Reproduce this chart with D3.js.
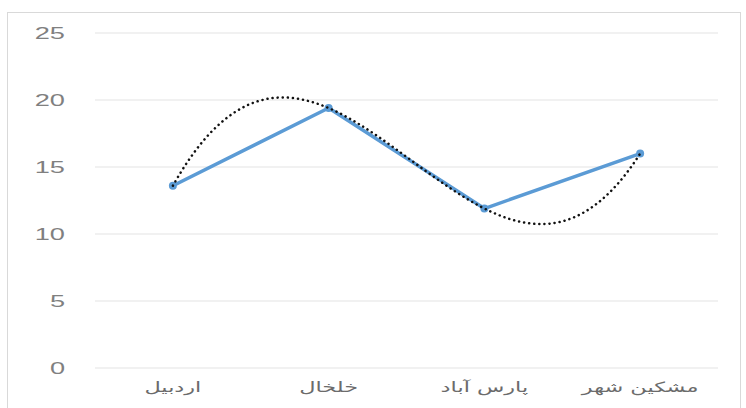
<!DOCTYPE html>
<html>
<head>
<meta charset="utf-8">
<script src="https://cdn.jsdelivr.net/npm/d3@7"></script>
<style>
  body { margin: 0; background: #fff; }
  svg { display: block; }
</style>
</head>
<body>
<svg></svg>
<script>
const width = 746
const height = 408

const cities = ["اردبیل", "خلخال", "پارس آباد", "مشکین شهر"]
const values = [13.6, 19.4, 11.9, 16.0]
const yTicks = [0, 5, 10, 15, 20, 25]

const svg = d3.select('svg')
  .attr('width', width)
  .attr('height', height)

// chart frame
svg.append('rect')
  .attr('x', 7.5).attr('y', 12.5)
  .attr('width', 733).attr('height', 410)
  .attr('fill', '#fff')
  .attr('stroke', '#d9d9d9')

const x = d3.scaleBand()
  .domain(cities)
  .range([95, 718])

const y = d3.scaleLinear()
  .domain([0, 25])
  .range([368, 33])

// gridlines
svg.append('g')
  .selectAll('line')
  .data(yTicks)
  .enter()
  .append('line')
  .attr('x1', 95).attr('x2', 718)
  .attr('y1', d => y(d)).attr('y2', d => y(d))
  .attr('stroke', '#e3e3e3')
  .attr('stroke-width', 1.2)

// y axis labels (the source picture is stretched sideways, so the text is too)
const yAxis = svg.append('g')
  .attr('transform', 'translate(65,0)')
  .call(d3.axisLeft(y).tickValues(yTicks).tickSize(0).tickPadding(0))
yAxis.select('.domain').remove()
yAxis.selectAll('text')
  .attr('x', 0)
  .attr('transform', 'scale(1.7,1)')
  .attr('fill', '#808080')
  .style('font-family', 'Liberation Sans, Arial, sans-serif')
  .style('font-size', '16px')

// x axis labels
const xAxis = svg.append('g')
  .attr('transform', 'translate(0,368)')
  .call(d3.axisBottom(x).tickSize(0).tickPadding(14))
xAxis.select('.domain').remove()
xAxis.selectAll('text')
  .attr('transform', 'scale(1.6,1)')
  .attr('fill', '#6b6b6b')
  .style('font-family', 'DejaVu Sans, sans-serif')
  .style('font-size', '14px')

const cx = d => x(d) + x.bandwidth() / 2

// data line
const pts = cities.map((c, i) => ({ c: c, v: values[i] }))
const line = d3.line()
  .x(d => cx(d.c))
  .y(d => y(d.v))

svg.append('path')
  .datum(pts)
  .attr('d', line)
  .attr('fill', 'none')
  .attr('stroke', '#5b9bd5')
  .attr('stroke-width', 3.5)
  .attr('stroke-linejoin', 'round')

svg.append('g')
  .selectAll('circle')
  .data(pts)
  .enter()
  .append('circle')
  .attr('cx', d => cx(d.c))
  .attr('cy', d => y(d.v))
  .attr('r', 4)
  .attr('fill', '#5b9bd5')

// polynomial (order 3) trendline through the four points
function poly(t) {
  let s = 0
  for (let i = 0; i < values.length; i++) {
    let p = values[i]
    for (let j = 0; j < values.length; j++) {
      if (j != i) p *= (t - (j + 1)) / ((i + 1) - (j + 1))
    }
    s += p
  }
  return s
}
const tx = d3.scaleLinear().domain([1, 4]).range([cx(cities[0]), cx(cities[3])])
const trend = d3.range(1, 4.001, 0.02).map(t => [tx(t), y(poly(t))])

svg.append('path')
  .datum(trend)
  .attr('d', d3.line())
  .attr('fill', 'none')
  .attr('stroke', '#111')
  .attr('stroke-width', 2.5)
  .attr('stroke-dasharray', '0.1,5')
  .attr('stroke-linecap', 'round')
</script>
</body>
</html>
